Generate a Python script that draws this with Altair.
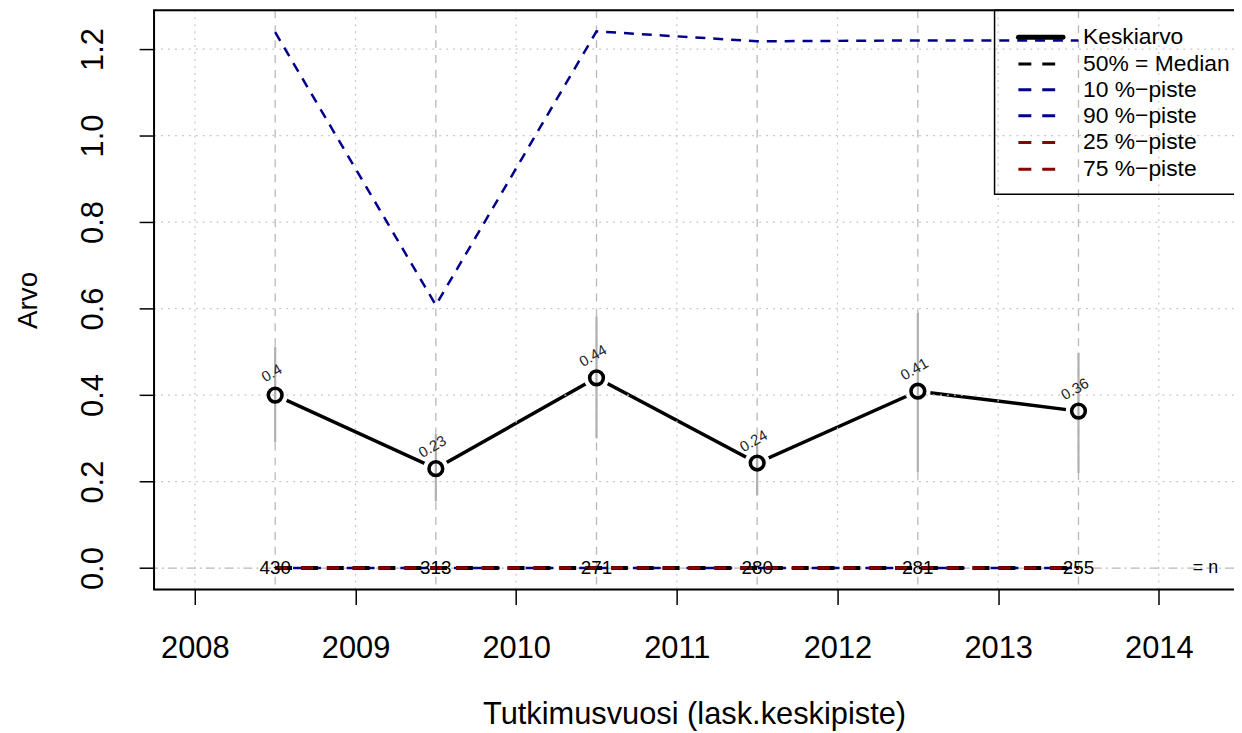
import altair as alt
import pandas as pd

# ---- data ----
years = [2008.5, 2009.5, 2010.5, 2011.5, 2012.5, 2013.5]
mean = [0.400, 0.230, 0.440, 0.243, 0.409, 0.363]
ci_low = [0.291, 0.154, 0.300, 0.168, 0.222, 0.220]
ci_high = [0.512, 0.310, 0.582, 0.287, 0.590, 0.498]
p90 = [1.239, 0.608, 1.241, 1.218, 1.220, 1.220]
p10 = [0.0, 0.0, 0.0, 0.0, 0.0, 0.0]
p25 = [0.0, 0.0, 0.0, 0.0, 0.0, 0.0]
p50 = [0.0, 0.0, 0.0, 0.0, 0.0, 0.0]
p75 = [0.0, 0.0, 0.0, 0.0, 0.0, 0.0]
n_obs = [430, 313, 271, 280, 281, 255]
n_label_x = 2014.29

x_ticks = [2008, 2009, 2010, 2011, 2012, 2013, 2014]
y_ticks = [0.0, 0.2, 0.4, 0.6, 0.8, 1.0, 1.2]

legend_labels = ["Keskiarvo", "50% = Median", "10 %\u2212piste", "90 %\u2212piste",
                 "25 %\u2212piste", "75 %\u2212piste"]
legend_colors = ["black", "black", "#00008B", "#00008B", "#8B0000", "#8B0000"]

FONT = "Liberation Sans"
W, H = 1087, 583

df = pd.DataFrame({"x": years, "y": mean, "lo": ci_low, "hi": ci_high,
                   "p90": p90, "p10": p10, "p25": p25, "p50": p50, "p75": p75,
                   "n": [str(v) for v in n_obs],
                   "lab": [f"{round(v, 2):g}" for v in mean]})

xscale = alt.Scale(domain=[2007.746, 2014.468], nice=False, zero=False)
yscale = alt.Scale(domain=[-0.0496, 1.2896], nice=False, zero=False)

xaxis = alt.Axis(values=x_ticks, format="d", grid=False, domain=False,
                 tickColor="black", tickWidth=1.5, tickSize=15,
                 labelFont=FONT, labelFontSize=31, labelColor="black",
                 labelPadding=29, labelBaseline="top",
                 titleFont=FONT, titleFontSize=31, titleFontWeight="normal",
                 titleColor="black", titleX=W / 2, titleY=126,
                 titleBaseline="middle", titleAlign="center")
yaxis = alt.Axis(values=y_ticks, format=".1f", grid=False, domain=False,
                 tickColor="black", tickWidth=1.5, tickSize=15,
                 labelFont=FONT, labelFontSize=31, labelColor="black",
                 labelAngle=270, labelAlign="center", labelBaseline="bottom",
                 labelPadding=30,
                 titleFont=FONT, titleFontSize=28, titleFontWeight="normal",
                 titleColor="black", titleAngle=270, titleX=-118, titleY=H / 2,
                 titleBaseline="alphabetic", titleAlign="center")


def X(field="x"):
    return alt.X(field, type="quantitative", scale=xscale, axis=xaxis,
                 title="Tutkimusvuosi (lask.keskipiste)")


def Y(field="y"):
    return alt.Y(field, type="quantitative", scale=yscale, axis=yaxis, title="Arvo")


base = alt.Chart(df)

mean_line = base.mark_line(color="black", strokeWidth=3.5).encode(x=X(), y=Y())
gap = base.mark_point(shape="circle", filled=True, color="white", opacity=1,
                      size=650).encode(x=X(), y=Y())

grid_y = alt.Chart(pd.DataFrame({"y": y_ticks[1:]})).mark_rule(
    color="#c8c8c8", strokeWidth=1.2, strokeDash=[2, 5]).encode(y=Y())
grid_x = alt.Chart(pd.DataFrame({"x": x_ticks})).mark_rule(
    color="#c8c8c8", strokeWidth=1.2, strokeDash=[2, 5]).encode(x=X())
grid_xh = alt.Chart(pd.DataFrame({"x": years})).mark_rule(
    color="#b8b8b8", strokeWidth=1.3, strokeDash=[8, 7]).encode(x=X())
zero_rule = alt.Chart(pd.DataFrame({"y": [0.0]})).mark_rule(
    color="#b8b8b8", strokeWidth=1.3, strokeDash=[9, 4, 2, 4]).encode(y=Y())

err = base.mark_rule(color="#b0b0b0", strokeWidth=2.2).encode(
    x=X(), y=Y("lo"), y2="hi")
pts = base.mark_point(shape="circle", filled=False, color="black", strokeWidth=3.6,
                      size=190, opacity=1).encode(x=X(), y=Y())
val_text = base.mark_text(font=FONT, fontSize=15, angle=330, dy=-21, dx=8,
                          color="#222222").encode(x=X(), y=Y(), text="lab")

line90 = base.mark_line(color="#00008B", strokeWidth=2.5, strokeDash=[10, 8]).encode(
    x=X(), y=Y("p90"))
line10 = base.mark_line(color="#00008B", strokeWidth=2.5, strokeDash=[10, 8]).encode(
    x=X(), y=Y("p10"))
line50 = base.mark_line(color="black", strokeWidth=4, strokeDash=[17, 9]).encode(
    x=X(), y=Y("p50"))
line25 = base.mark_line(color="#8B0000", strokeWidth=3, strokeDash=[12, 14]).encode(
    x=X(), y=Y("p25"))
line75 = base.mark_line(color="#8B0000", strokeWidth=3, strokeDash=[12, 14]).encode(
    x=X(), y=Y("p75"))

n_text = base.mark_text(font=FONT, fontSize=19, color="black", baseline="middle").encode(
    x=X(), y=Y("p50"), text="n")
n_eq = alt.Chart(pd.DataFrame({"x": [n_label_x], "y": [0.0], "t": ["= n"]})).mark_text(
    font=FONT, fontSize=18, color="black", baseline="middle").encode(
    x=X(), y=Y(), text="t")

frame = alt.Chart(pd.DataFrame({"a": [0]})).mark_rect(
    fill=None, stroke="black", strokeWidth=2).encode(
    x=alt.value(0), x2=alt.value(W + 2), y=alt.value(0), y2=alt.value(H))

# ---- legend (drawn manually, like R's legend box) ----
leg_layers = []
leg_box = alt.Chart(pd.DataFrame({"a": [0]})).mark_rect(
    fill=None, stroke="black", strokeWidth=1.5).encode(
    x=alt.value(846), x2=alt.value(1120), y=alt.value(0), y2=alt.value(185))
leg_layers.append(leg_box)
row_y = [27, 54, 80, 106, 133, 160]
for i, (lab, col) in enumerate(zip(legend_labels, legend_colors)):
    d = pd.DataFrame({"t": [lab]})
    if i == 0:
        sym = alt.Chart(d).mark_rule(color=col, strokeWidth=5, strokeCap="round").encode(
            x=alt.value(870), x2=alt.value(915), y=alt.value(row_y[i]))
    else:
        sym = alt.Chart(d).mark_rule(color=col, strokeWidth=3, strokeDash=[13, 11]).encode(
            x=alt.value(870), x2=alt.value(918), y=alt.value(row_y[i]))
    txt = alt.Chart(d).mark_text(font=FONT, fontSize=23, align="left", baseline="middle",
                                 color="black").encode(
        x=alt.value(935), y=alt.value(row_y[i]), text="t")
    leg_layers += [sym, txt]

chart = alt.layer(
    mean_line, gap, grid_y, grid_x, grid_xh, zero_rule, err, pts, val_text,
    line90, line10, line50, line25, line75, n_text, n_eq, frame, *leg_layers
).properties(
    width=W, height=H,
    autosize=alt.AutoSizeParams(type="none"),
    padding={"left": 147, "top": 0, "right": 0, "bottom": 140},
).configure_view(stroke=None).configure(background="white")

chart.save("out.html", embed_options={"renderer": "svg", "actions": False})
